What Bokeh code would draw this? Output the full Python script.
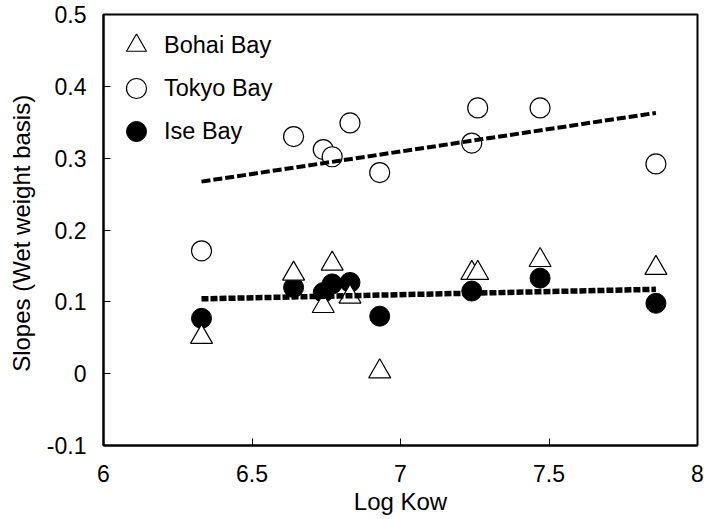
import numpy as np
from bokeh.plotting import figure
from bokeh.models import Range1d, FixedTicker, Legend, LegendItem
from bokeh.embed import file_html
from bokeh.resources import INLINE

# ---- data ----
log_kow = [6.33, 6.64, 6.74, 6.77, 6.83, 6.93, 7.24, 7.26, 7.47, 7.86]
bohai = [0.051, 0.139, 0.094, 0.153, 0.107, 0.003, 0.140, 0.140, 0.158, 0.147]
tokyo = [0.171, 0.330, 0.312, 0.302, 0.349, 0.280, 0.321, 0.370, 0.370, 0.292]
ise = [0.077, 0.120, 0.113, 0.125, 0.127, 0.080, 0.115, None, 0.133, 0.098]

x_ticks = [6, 6.5, 7, 7.5, 8]
x_tick_labels = ["6", "6.5", "7", "7.5", "8"]
y_ticks = [-0.1, 0, 0.1, 0.2, 0.3, 0.4, 0.5]
y_tick_labels = ["-0.1", "0", "0.1", "0.2", "0.3", "0.4", "0.5"]

FONT = "Liberation Sans"

p = figure(width=704, height=519, output_backend="svg", toolbar_location=None,
           x_range=Range1d(6, 8), y_range=Range1d(-0.1, 0.5),
           min_border_left=103, min_border_right=7, min_border_top=14, min_border_bottom=74)
p.grid.visible = False
p.outline_line_color = "black"
p.outline_line_width = 2
p.background_fill_color = "white"
p.border_fill_color = "white"

for ax in (p.xaxis[0], p.yaxis[0]):
    ax.axis_line_color = "black"
    ax.axis_line_width = 2
    ax.major_tick_in = 7
    ax.major_tick_out = 0
    ax.major_tick_line_color = "black"
    ax.major_tick_line_width = 1
    ax.minor_tick_line_color = None
    ax.major_label_text_font = FONT
    ax.major_label_text_font_size = "23px"
    ax.major_label_text_color = "black"
    ax.axis_label_text_font = FONT
    ax.axis_label_text_font_size = "24px"
    ax.axis_label_text_font_style = "normal"
    ax.axis_label_text_color = "black"

p.xaxis.ticker = FixedTicker(ticks=x_ticks)
p.xaxis.major_label_overrides = dict(zip(x_ticks, x_tick_labels))
p.yaxis.ticker = FixedTicker(ticks=y_ticks)
p.yaxis.major_label_overrides = dict(zip(y_ticks, y_tick_labels))
p.xaxis.axis_label = "Log Kow"
p.yaxis.axis_label = "Slopes  (Wet weight basis)"
p.xaxis.major_label_standoff = 19
p.xaxis.axis_label_standoff = 3
p.yaxis.major_label_standoff = 17
p.yaxis.axis_label_standoff = 9

# series
ise_x = [x for x, y in zip(log_kow, ise) if y is not None]
ise_y = [y for y in ise if y is not None]

r_ise = p.scatter(ise_x, ise_y, marker="circle", size=20, fill_color="black",
                  line_color="black", line_width=1)
r_bohai = p.scatter(log_kow, bohai, marker="triangle", size=22, fill_color="white",
                    line_color="black", line_width=1.2)
r_tokyo = p.scatter(log_kow, tokyo, marker="circle", size=20, fill_color="white",
                    line_color="black", line_width=1.2)

# linear trend lines (least squares) over the data range
def trend(xs, ys):
    k, b = np.polyfit(xs, ys, 1)
    xx = np.array([min(xs), max(xs)])
    return xx, k * xx + b

tx, ty = trend(log_kow, tokyo)
p.line(tx, ty, line_color="black", line_width=4, line_dash="9 3")
ix, iy = trend(ise_x, ise_y)
p.line(ix, iy, line_color="black", line_width=5.5, line_dash="7 2")

# legend: one box per entry so rows can sit closer than the marker box height
entries = [("Bohai Bay", r_bohai, 375), ("Tokyo Bay", r_tokyo, 332), ("Ise Bay", r_ise, 289)]
for label, rend, vy in entries:
    lg = Legend(items=[LegendItem(label=label, renderers=[rend])],
                location=(7, vy), margin=0, padding=0, spacing=0,
                glyph_width=52, glyph_height=50, label_standoff=2,
                label_text_font=FONT, label_text_font_size="23.5px",
                label_text_color="black", border_line_color=None,
                background_fill_alpha=0)
    p.add_layout(lg)

open("out.html", "w").write(file_html(p, INLINE))
